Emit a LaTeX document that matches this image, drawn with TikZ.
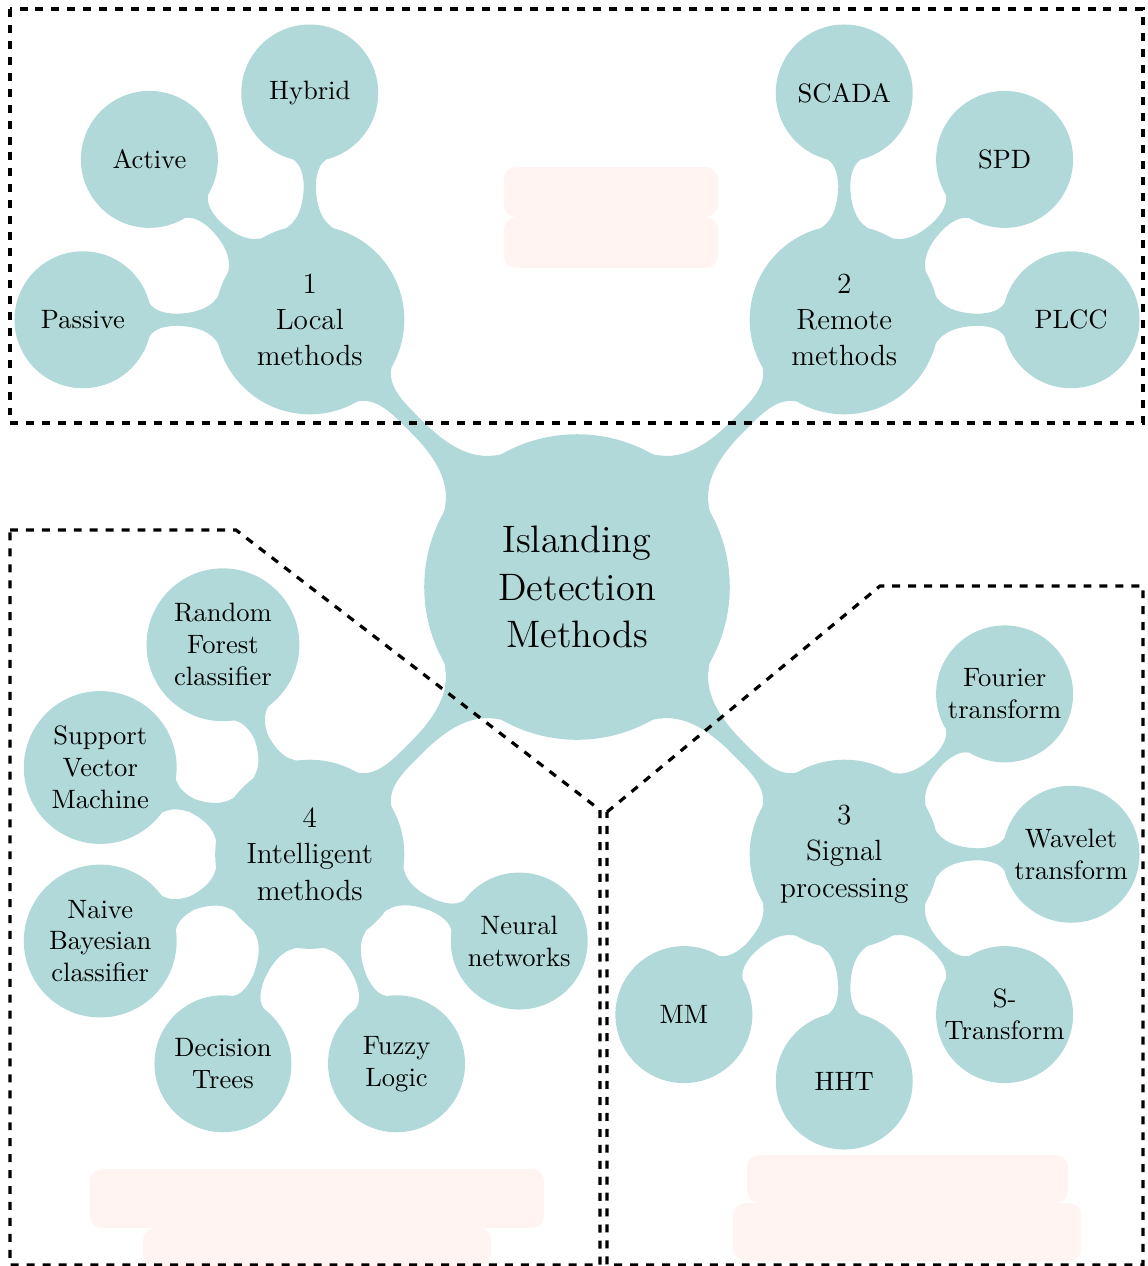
\documentclass[tikz,border=0pt]{standalone}
\usetikzlibrary{mindmap,calc}
\definecolor{notepink}{RGB}{255,244,242}
\begin{document}
\begin{tikzpicture}[x=0.013228cm,y=-0.013228cm, mindmap, concept color=teal!30,
  rootc/.style={concept, minimum size=4cm, text width=3.5cm, inner sep=0pt, font=\Large},
  mainc/.style={concept, minimum size=2.46cm, text width=2cm, inner sep=0pt, font=\fontsize{11}{13.6}\selectfont},
  leafc/.style={concept, minimum size=1.77cm, text width=1.6cm, inner sep=0pt, font=\normalsize},
  bigleaf/.style={leafc, minimum size=1.98cm},
  link/.style={circle connection bar switch color=from (teal!30) to (teal!30)},
  region/.style={draw, dashed, line width=1.2pt},
  notebox/.style={fill=notepink, rounded corners=0.16cm}]
\useasboundingbox (0,0) rectangle (1148,1266);

% empty caption boxes
\fill[notebox] (504,167) rectangle (718,217);
\fill[notebox] (504,217) rectangle (718,268);
\fill[notebox] (90,1169) rectangle (544,1228);
\fill[notebox] (143,1228) rectangle (491,1266);
\fill[notebox] (747,1155) rectangle (1068,1203);
\fill[notebox] (733,1203) rectangle (1081,1261);

% central concept and the four families
\node[rootc] (root) at (577,587) {Islanding\\Detection\\Methods};
\node[mainc] (local)  at ($(root)+(135:5cm)$) {1\\Local\\methods};
\node[mainc] (remote) at ($(root)+(45:5cm)$)  {2\\Remote\\methods};
\node[mainc] (signal) at ($(root)+(-45:5cm)$) {3\\Signal\\processing};
\node[mainc] (intel)  at ($(root)+(-135:5cm)$) {4\\Intelligent\\methods};

% local methods
\node[leafc] (passive) at ($(local)+(180:3cm)$) {Passive};
\node[leafc] (active)  at ($(local)+(135:3cm)$) {Active};
\node[leafc] (hybrid)  at ($(local)+(90:3cm)$)  {Hybrid};

% remote methods
\node[leafc] (scada) at ($(remote)+(90:3cm)$) {SCADA};
\node[leafc] (spd)   at ($(remote)+(45:3cm)$) {SPD};
\node[leafc] (plcc)  at ($(remote)+(0:3cm)$)  {PLCC};

% signal processing
\node[leafc] (fourier) at ($(signal)+(45:3cm)$)   {Fourier\\transform};
\node[leafc] (wavelet) at ($(signal)+(0:3cm)$)    {Wavelet\\transform};
\node[leafc] (stran)   at ($(signal)+(-45:3cm)$)  {S-\\Transform};
\node[leafc] (hht)     at ($(signal)+(-90:3cm)$)  {HHT};
\node[leafc] (mm)      at ($(signal)+(-135:3cm)$) {MM};

% intelligent methods
\node[bigleaf] (rf)    at ($(intel)+(112.5:3cm)$) {Random\\Forest\\classifier};
\node[bigleaf] (svm)   at ($(intel)+(157.5:3cm)$) {Support\\Vector\\Machine};
\node[bigleaf] (nb)    at ($(intel)+(202.5:3cm)$) {Naive\\Bayesian\\classifier};
\node[leafc]   (dt)    at ($(intel)+(247.5:3cm)$) {Decision\\Trees};
\node[leafc]   (fuzzy) at ($(intel)+(292.5:3cm)$) {Fuzzy\\Logic};
\node[leafc]   (nn)    at ($(intel)+(337.5:3cm)$) {Neural\\networks};

% connection bars
\foreach \a/\b in {root/local, root/remote, root/signal, root/intel,
  local/passive, local/active, local/hybrid,
  remote/scada, remote/spd, remote/plcc,
  signal/fourier, signal/wavelet, signal/stran, signal/hht, signal/mm,
  intel/rf, intel/svm, intel/nb, intel/dt, intel/fuzzy, intel/nn}
  \path (\a) to[link] (\b);

% dashed groupings
\draw[region] (10,9) rectangle (1143,423);
\draw[region] (10,530) -- (236,530) -- (600,810) -- (600,1265) -- (10,1265) -- cycle;
\draw[region] (607,812) -- (880,586) -- (1143,586) -- (1143,1265) -- (607,1265) -- cycle;
\end{tikzpicture}
\end{document}
